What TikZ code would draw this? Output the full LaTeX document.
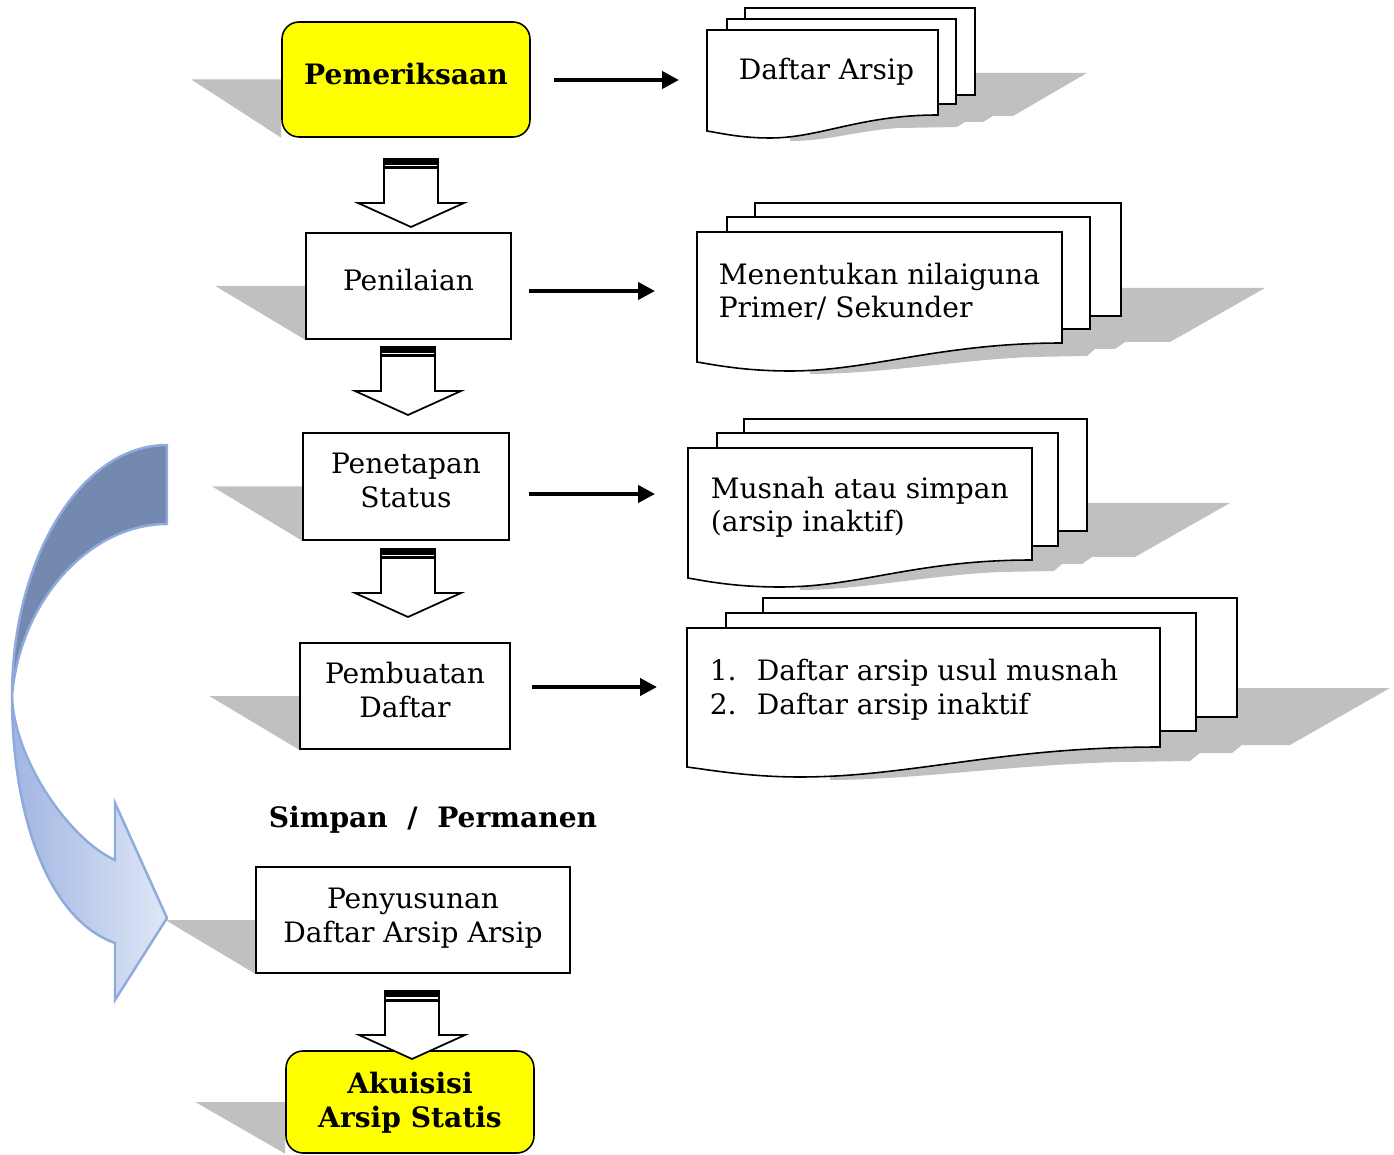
\documentclass[tikz,border=0pt]{standalone}
\usepackage{fontspec}
\setmainfont{DejaVu Serif}
\usetikzlibrary{arrows.meta,backgrounds}
\definecolor{kuning}{RGB}{255,255,0}
\definecolor{bayang}{RGB}{192,192,192}
\definecolor{birutua}{RGB}{115,137,176}
\definecolor{birutepi}{RGB}{143,170,220}
\definecolor{birumuda}{RGB}{160,181,226}
\definecolor{birupucat}{RGB}{224,231,246}
\begin{document}
\begin{tikzpicture}[x=0.02cm,y=-0.02cm,line width=0.9pt,
  font=\fontsize{16pt}{19.3pt}\selectfont,
  kotak/.style={draw,fill=white,inner sep=0pt,align=center,text depth=0.24cm},
  kotakkuning/.style={kotak,fill=kuning,rounded corners=0.34cm,font=\fontsize{16pt}{19.3pt}\selectfont\bfseries},
  isian/.style={anchor=base west,align=left,inner sep=0pt},
  lembar/.style={draw,fill=white},
  bayangan/.style={fill=bayang},
  panah/.style={line width=2.3pt,-{Triangle[length=0.34cm,width=0.34cm]}},
  blok/.style={draw,fill=white,line width=1pt}]
	\useasboundingbox (0,0) rectangle (1394,1155);
	\node[kotakkuning,minimum width=4.96cm,minimum height=2.3cm] (pem) at (406,79.5) {Pemeriksaan};
	\node[kotak,minimum width=4.1cm,minimum height=2.12cm] (pen) at (408.5,286) {Penilaian};
	\node[kotak,minimum width=4.12cm,minimum height=2.14cm] (pst) at (406,486.5) {Penetapan\\Status};
	\node[kotak,minimum width=4.2cm,minimum height=2.12cm] (pbd) at (405,696) {Pembuatan\\Daftar};
	\node[kotak,minimum width=6.28cm,minimum height=2.12cm,text depth=0.2cm] (pny) at (413,920) {Penyusunan\\Daftar Arsip Arsip};
	\node[kotakkuning,minimum width=4.96cm,minimum height=2.04cm,text depth=0.1cm] (aku) at (410,1102) {Akuisisi\\Arsip Statis};
	\begin{scope}[on background layer]
		\foreach \b in {pem,pen,pst,pbd,pny,aku}
			\fill[bayangan] ([xshift=-1.8cm]\b.west) -- (\b.west) -- (\b.south west) -- cycle;
	\end{scope}
	\foreach \x/\y in {411/159,408/347,408/549,412/991}{
		\draw[blok] (\x-27,\y) -- (\x+27,\y) -- (\x+27,\y+44) -- (\x+53,\y+44) -- (\x,\y+68) -- (\x-53,\y+44) -- (\x-27,\y+44) -- cycle;
		\fill (\x-27,\y) rectangle (\x+27,\y+6);
		\fill (\x-27,\y+7.5) rectangle (\x+27,\y+10.5);
	}
	\fill[bayangan] (960,73) -- (1087,73) -- (1013,116) -- (993,116) -- (983,122) -- (965,122) -- (957,127) -- (900,128) .. controls (860,130) and (830,141) .. (790,141) -- (790,73) -- cycle;
	\draw[lembar] (745,8) rectangle (975,95);
	\draw[lembar] (727,19) rectangle (956,104);
	\draw[lembar] (707,30) -- (938,30) -- (938,115) .. controls (860,115) and (820,138) .. (770,138) .. controls (740,138) and (720,133) .. (707,131) -- cycle;
	\fill[bayangan] (1100,288) -- (1265,288) -- (1170,342) -- (1125,342) -- (1115,349) -- (1095,349) -- (1087,356) -- (1030,357) .. controls (960,360) and (880,374) .. (810,374) -- (810,288) -- cycle;
	\draw[lembar] (755,203) rectangle (1121,316);
	\draw[lembar] (727,217) rectangle (1090,329);
	\draw[lembar] (697,232) -- (1062,232) -- (1062,343) .. controls (940,343) and (870,371) .. (790,371) .. controls (745,371) and (715,365) .. (697,362) -- cycle;
	\fill[bayangan] (1070,503) -- (1230,503) -- (1135,557) -- (1092,557) -- (1082,564) -- (1062,564) -- (1054,571) -- (1000,572) .. controls (930,575) and (860,590) .. (800,590) -- (800,503) -- cycle;
	\draw[lembar] (744,419) rectangle (1087,531);
	\draw[lembar] (717,433) rectangle (1058,546);
	\draw[lembar] (688,448) -- (1032,448) -- (1032,560) .. controls (915,560) and (860,587) .. (780,587) .. controls (735,587) and (705,581) .. (688,578) -- cycle;
	\fill[bayangan] (1220,688) -- (1390,688) -- (1290,745) -- (1242,745) -- (1232,753) -- (1200,753) -- (1190,761) -- (1120,762) .. controls (1010,765) and (910,780) .. (830,780) -- (830,688) -- cycle;
	\draw[lembar] (763,598) rectangle (1237,717);
	\draw[lembar] (726,613) rectangle (1196,731);
	\draw[lembar] (687,628) -- (1160,628) -- (1160,747) .. controls (1000,747) and (910,777) .. (800,777) .. controls (750,777) and (710,770) .. (687,767) -- cycle;
	\node[isian] (isi1) at (738,80) {Daftar Arsip};
	\node[isian] (isi2) at (718,318) {Menentukan nilaiguna\\Primer/ Sekunder};
	\node[isian] (isi3) at (710,532) {Musnah atau simpan\\(arsip inaktif)};
	\node[isian] (isi4) at (709,714) {\makebox[0.94cm][l]{1.}Daftar arsip usul musnah\\\makebox[0.94cm][l]{2.}Daftar arsip inaktif};
	\coordinate (dok1) at (707,80);
	\coordinate (dok2) at (697,291);
	\coordinate (dok3) at (688,494);
	\coordinate (dok4) at (687,687);
	\draw[panah,shorten <=0.46cm,shorten >=0.56cm] (pem.east |- dok1) -- (dok1);
	\draw[panah,shorten <=0.34cm,shorten >=0.84cm] (pen.east |- dok2) -- (dok2);
	\draw[panah,shorten <=0.38cm,shorten >=0.66cm] (pst.east |- dok3) -- (dok3);
	\draw[panah,shorten <=0.42cm,shorten >=0.6cm] (pbd.east |- dok4) -- (dok4);
	\node[font=\fontsize{16pt}{19.3pt}\selectfont\bfseries] (simpan) at (433,820) {Simpan~~/~~Permanen};
	\draw[birutepi,line width=1.4pt,fill=birutua] (167,445) .. controls (80,445) and (12,560) .. (12,696) .. controls (20,600) and (90,524) .. (167,524) -- cycle;
	\draw[birutepi,line width=1.4pt,left color=birumuda,right color=birupucat] (12,696) .. controls (12,820) and (50,920) .. (115,943) -- (115,1000) -- (167,918) -- (115,803) -- (115,860) .. controls (70,840) and (14,760) .. (12,696) -- cycle;
\end{tikzpicture}
\end{document}
